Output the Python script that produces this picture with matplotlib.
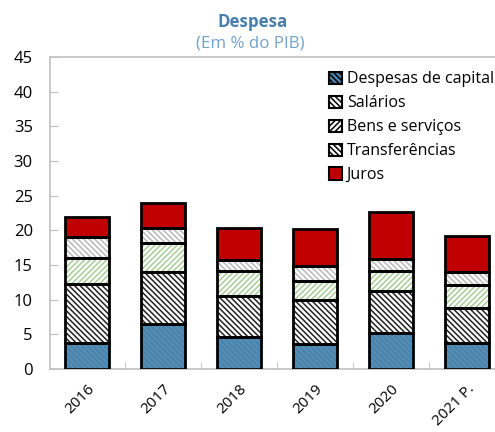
import matplotlib
matplotlib.use("Agg")
import matplotlib.pyplot as plt
import numpy as np

years = ["2016", "2017", "2018", "2019", "2020", "2021 P."]
capital = [3.8, 6.5, 4.6, 3.6, 5.2, 3.7]
salarios = [8.5, 7.5, 5.9, 6.4, 6.1, 5.1]
bens = [3.7, 4.1, 3.7, 2.7, 2.8, 3.3]
transf = [3.1, 2.3, 1.5, 2.1, 1.7, 1.9]
juros = [2.8, 3.6, 4.7, 5.4, 6.8, 5.2]
series_names = ["Despesas de capital", "Salários", "Bens e serviços", "Transferências", "Juros"]

plt.rcParams['font.family'] = ['Open Sans', 'DejaVu Sans']
plt.rcParams['hatch.linewidth'] = 1.1

fig = plt.figure(figsize=(4.95, 4.32), dpi=100)
ax = fig.add_axes([0.1, 0.146, 0.92, 0.722])

styles = [
    dict(face="#4a84ad", hatch="\\\\\\\\\\\\", hcol="#5890b6"),
    dict(face="white", hatch="\\\\\\\\\\\\", hcol="#222222"),
    dict(face="white", hatch="//////", hcol="#a8cc98"),
    dict(face="white", hatch="\\\\\\\\\\\\", hcol="#b8b8b8"),
    dict(face="#c00000", hatch=None, hcol="#c00000"),
]
data = [capital, salarios, bens, transf, juros]
x = np.arange(len(years))
w = 0.58
bottom = np.zeros(len(years))
handles = []
for vals, st, name in zip(data, styles, series_names):
    vals = np.array(vals)
    ax.bar(x, vals, w, bottom=bottom, color=st["face"], edgecolor=st["hcol"],
           hatch=st["hatch"], linewidth=0, zorder=2)
    ax.bar(x, vals, w, bottom=bottom, fill=False, edgecolor="black", linewidth=2, zorder=3)
    h = plt.Rectangle((0, 0), 1, 1, facecolor=st["face"], edgecolor="black",
                      hatch=st["hatch"], linewidth=1.5)
    handles.append(h)
    bottom += vals

ax.set_xlim(-0.5, len(years) - 0.5)
ax.set_ylim(0, 45)
ax.set_yticks(np.arange(0, 46, 5))
ax.set_xticks(x)
ax.set_xticklabels(years, rotation=45, ha="right", rotation_mode="anchor", fontsize=11)
ax.set_xticks(np.arange(0.5, len(years) - 0.5, 1), minor=True)
ax.tick_params(axis="x", which="major", length=0, pad=9)
ax.tick_params(axis="x", which="minor", direction="in", length=5, color="#c0c0c0")
ax.tick_params(axis="y", direction="in", length=6, color="#c0c0c0", labelsize=12, pad=12)
for s in ["left", "bottom", "top", "right"]:
    ax.spines[s].set_color("#c0c0c0")
    ax.spines[s].set_linewidth(1.2)

leg = ax.legend(handles, series_names, loc="upper left", bbox_to_anchor=(0.6, 0.975),
                frameon=False, fontsize=11.5, handlelength=0.8, handleheight=0.8,
                handletextpad=0.3, labelspacing=0.5, borderaxespad=0.2, borderpad=0.2)

fig.text(0.511, 0.95, "Despesa", ha="center", va="center", fontsize=12.2,
         fontweight="bold", color="#4a7fab")
fig.text(0.506, 0.899, "(Em % do PIB)", ha="center", va="center", fontsize=12.2,
         color="#72a2cc")

fig.savefig("out.png", dpi=100)
